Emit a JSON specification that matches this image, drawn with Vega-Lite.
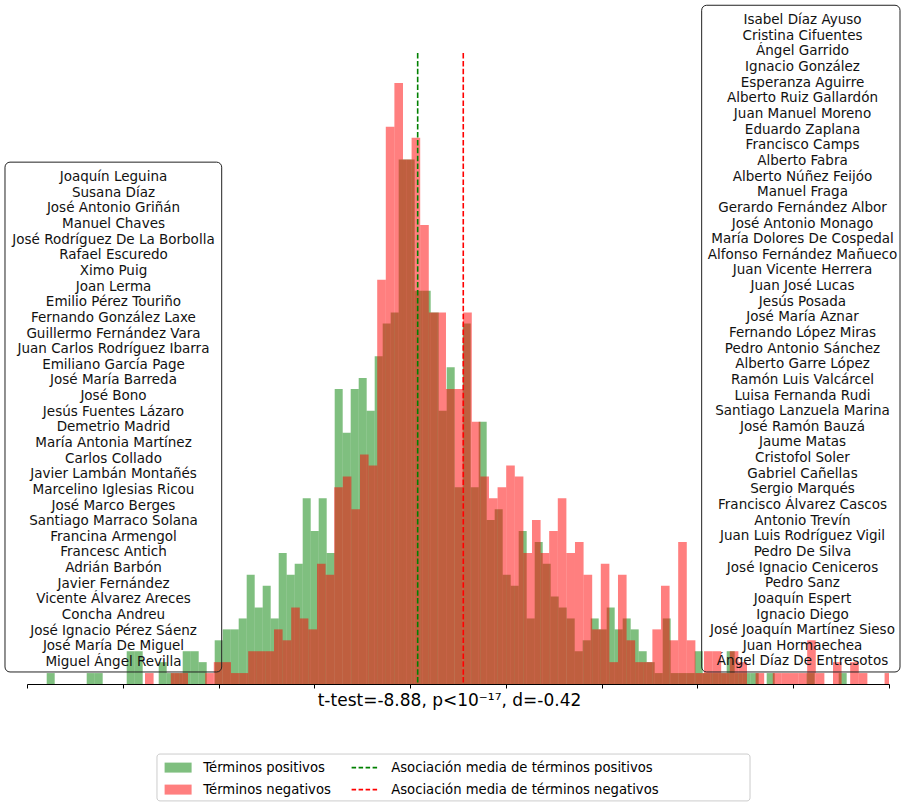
{
"$schema": "https://vega.github.io/schema/vega-lite/v6.json",
"width": 862, "height": 631,
"autosize": {"type": "none"},
"padding": {"left": 27, "top": 53, "right": 13, "bottom": 120},
"background": "white",
"config": {"font": "DejaVu Sans", "view": {"stroke": null}},
"datasets": {
"hist": [
{"serie":"Términos positivos","lo":0.2057,"hi":0.2892,"n":1},
{"serie":"Términos positivos","lo":0.6233,"hi":0.7068,"n":1},
{"serie":"Términos positivos","lo":0.7068,"hi":0.7903,"n":1},
{"serie":"Términos positivos","lo":1.0410,"hi":1.1245,"n":3},
{"serie":"Términos positivos","lo":1.1245,"hi":1.2080,"n":3},
{"serie":"Términos positivos","lo":1.3751,"hi":1.4586,"n":2},
{"serie":"Términos positivos","lo":1.4586,"hi":1.5421,"n":1},
{"serie":"Términos positivos","lo":1.5421,"hi":1.6256,"n":1},
{"serie":"Términos positivos","lo":1.6256,"hi":1.7092,"n":3},
{"serie":"Términos positivos","lo":1.7092,"hi":1.7927,"n":3},
{"serie":"Términos positivos","lo":1.7927,"hi":1.8762,"n":2},
{"serie":"Términos positivos","lo":1.9597,"hi":2.0432,"n":4},
{"serie":"Términos positivos","lo":2.0432,"hi":2.1268,"n":5},
{"serie":"Términos positivos","lo":2.1268,"hi":2.2103,"n":5},
{"serie":"Términos positivos","lo":2.2103,"hi":2.2938,"n":6},
{"serie":"Términos positivos","lo":2.2938,"hi":2.3774,"n":10},
{"serie":"Términos positivos","lo":2.3774,"hi":2.4609,"n":7},
{"serie":"Términos positivos","lo":2.4609,"hi":2.5444,"n":9},
{"serie":"Términos positivos","lo":2.5444,"hi":2.6280,"n":6},
{"serie":"Términos positivos","lo":2.6280,"hi":2.7115,"n":12},
{"serie":"Términos positivos","lo":2.7115,"hi":2.7950,"n":10},
{"serie":"Términos positivos","lo":2.7950,"hi":2.8785,"n":11},
{"serie":"Términos positivos","lo":2.8785,"hi":2.9621,"n":17},
{"serie":"Términos positivos","lo":2.9621,"hi":3.0456,"n":14},
{"serie":"Términos positivos","lo":3.0456,"hi":3.1291,"n":17},
{"serie":"Términos positivos","lo":3.1291,"hi":3.2126,"n":12},
{"serie":"Términos positivos","lo":3.2126,"hi":3.2962,"n":27},
{"serie":"Términos positivos","lo":3.2962,"hi":3.3797,"n":23},
{"serie":"Términos positivos","lo":3.3797,"hi":3.4632,"n":27},
{"serie":"Términos positivos","lo":3.4632,"hi":3.5467,"n":28},
{"serie":"Términos positivos","lo":3.5467,"hi":3.6303,"n":25},
{"serie":"Términos positivos","lo":3.6303,"hi":3.7138,"n":30},
{"serie":"Términos positivos","lo":3.7138,"hi":3.7973,"n":33},
{"serie":"Términos positivos","lo":3.7973,"hi":3.8808,"n":34},
{"serie":"Términos positivos","lo":3.8808,"hi":3.9644,"n":48},
{"serie":"Términos positivos","lo":3.9644,"hi":4.0479,"n":48},
{"serie":"Términos positivos","lo":4.0479,"hi":4.1314,"n":36},
{"serie":"Términos positivos","lo":4.1314,"hi":4.2149,"n":36},
{"serie":"Términos positivos","lo":4.2149,"hi":4.2985,"n":34},
{"serie":"Términos positivos","lo":4.2985,"hi":4.3820,"n":25},
{"serie":"Términos positivos","lo":4.3820,"hi":4.4655,"n":29},
{"serie":"Términos positivos","lo":4.4655,"hi":4.5490,"n":18},
{"serie":"Términos positivos","lo":4.5490,"hi":4.6326,"n":33},
{"serie":"Términos positivos","lo":4.6326,"hi":4.7161,"n":18},
{"serie":"Términos positivos","lo":4.7161,"hi":4.7996,"n":24},
{"serie":"Términos positivos","lo":4.7996,"hi":4.8831,"n":15},
{"serie":"Términos positivos","lo":4.8831,"hi":4.9667,"n":16},
{"serie":"Términos positivos","lo":4.9667,"hi":5.0502,"n":10},
{"serie":"Términos positivos","lo":5.0502,"hi":5.1337,"n":9},
{"serie":"Términos positivos","lo":5.1337,"hi":5.2172,"n":14},
{"serie":"Términos positivos","lo":5.2172,"hi":5.3008,"n":6},
{"serie":"Términos positivos","lo":5.3008,"hi":5.3843,"n":13},
{"serie":"Términos positivos","lo":5.3843,"hi":5.4678,"n":11},
{"serie":"Términos positivos","lo":5.4678,"hi":5.5513,"n":8},
{"serie":"Términos positivos","lo":5.5513,"hi":5.6349,"n":7},
{"serie":"Términos positivos","lo":5.6349,"hi":5.7184,"n":6},
{"serie":"Términos positivos","lo":5.7184,"hi":5.8019,"n":3},
{"serie":"Términos positivos","lo":5.8019,"hi":5.8854,"n":4},
{"serie":"Términos positivos","lo":5.8854,"hi":5.9690,"n":6},
{"serie":"Términos positivos","lo":5.9690,"hi":6.0525,"n":5},
{"serie":"Términos positivos","lo":6.0525,"hi":6.1360,"n":7},
{"serie":"Términos positivos","lo":6.1360,"hi":6.2195,"n":5},
{"serie":"Términos positivos","lo":6.2195,"hi":6.3031,"n":6},
{"serie":"Términos positivos","lo":6.3031,"hi":6.3866,"n":5},
{"serie":"Términos positivos","lo":6.3866,"hi":6.4701,"n":3},
{"serie":"Términos positivos","lo":6.4701,"hi":6.5536,"n":2},
{"serie":"Términos positivos","lo":6.5536,"hi":6.6372,"n":1},
{"serie":"Términos positivos","lo":6.6372,"hi":6.7207,"n":6},
{"serie":"Términos positivos","lo":6.7207,"hi":6.8042,"n":1},
{"serie":"Términos positivos","lo":6.8042,"hi":6.8877,"n":1},
{"serie":"Términos positivos","lo":6.8877,"hi":6.9713,"n":1},
{"serie":"Términos positivos","lo":6.9713,"hi":7.0548,"n":3},
{"serie":"Términos positivos","lo":7.0548,"hi":7.1383,"n":1},
{"serie":"Términos positivos","lo":7.1383,"hi":7.2218,"n":1},
{"serie":"Términos positivos","lo":7.2218,"hi":7.3054,"n":1},
{"serie":"Términos positivos","lo":7.3054,"hi":7.3889,"n":3},
{"serie":"Términos positivos","lo":7.3889,"hi":7.4724,"n":1},
{"serie":"Términos positivos","lo":7.4724,"hi":7.5559,"n":1},
{"serie":"Términos positivos","lo":7.5559,"hi":7.6395,"n":1},
{"serie":"Términos positivos","lo":7.7230,"hi":7.8065,"n":1},
{"serie":"Términos positivos","lo":8.1406,"hi":8.2241,"n":1},
{"serie":"Términos positivos","lo":8.4747,"hi":8.5582,"n":1},
{"serie":"Términos negativos","lo":1.2320,"hi":1.3218,"n":1},
{"serie":"Términos negativos","lo":1.5014,"hi":1.5912,"n":1},
{"serie":"Términos negativos","lo":1.5912,"hi":1.6810,"n":1},
{"serie":"Términos negativos","lo":1.8605,"hi":1.9503,"n":1},
{"serie":"Términos negativos","lo":1.9503,"hi":2.0401,"n":2},
{"serie":"Términos negativos","lo":2.0401,"hi":2.1299,"n":2},
{"serie":"Términos negativos","lo":2.1299,"hi":2.2197,"n":1},
{"serie":"Términos negativos","lo":2.2197,"hi":2.3095,"n":1},
{"serie":"Términos negativos","lo":2.3095,"hi":2.3993,"n":3},
{"serie":"Términos negativos","lo":2.3993,"hi":2.4891,"n":3},
{"serie":"Términos negativos","lo":2.4891,"hi":2.5789,"n":3},
{"serie":"Términos negativos","lo":2.5789,"hi":2.6687,"n":5},
{"serie":"Términos negativos","lo":2.6687,"hi":2.7584,"n":4},
{"serie":"Términos negativos","lo":2.7584,"hi":2.8482,"n":7},
{"serie":"Términos negativos","lo":2.8482,"hi":2.9380,"n":6},
{"serie":"Términos negativos","lo":2.9380,"hi":3.0278,"n":5},
{"serie":"Términos negativos","lo":3.0278,"hi":3.1176,"n":11},
{"serie":"Términos negativos","lo":3.1176,"hi":3.2074,"n":10},
{"serie":"Términos negativos","lo":3.2074,"hi":3.2972,"n":18},
{"serie":"Términos negativos","lo":3.2972,"hi":3.3870,"n":19},
{"serie":"Términos negativos","lo":3.3870,"hi":3.4767,"n":16},
{"serie":"Términos negativos","lo":3.4767,"hi":3.5665,"n":21},
{"serie":"Términos negativos","lo":3.5665,"hi":3.6563,"n":20},
{"serie":"Términos negativos","lo":3.6563,"hi":3.7461,"n":37},
{"serie":"Términos negativos","lo":3.7461,"hi":3.8359,"n":51},
{"serie":"Términos negativos","lo":3.8359,"hi":3.9257,"n":55},
{"serie":"Términos negativos","lo":3.9257,"hi":4.0155,"n":48},
{"serie":"Términos negativos","lo":4.0155,"hi":4.1053,"n":50},
{"serie":"Términos negativos","lo":4.1053,"hi":4.1950,"n":42},
{"serie":"Términos negativos","lo":4.1950,"hi":4.2848,"n":34},
{"serie":"Términos negativos","lo":4.2848,"hi":4.3746,"n":34},
{"serie":"Términos negativos","lo":4.3746,"hi":4.4644,"n":27},
{"serie":"Términos negativos","lo":4.4644,"hi":4.5542,"n":27},
{"serie":"Términos negativos","lo":4.5542,"hi":4.6440,"n":34},
{"serie":"Términos negativos","lo":4.6440,"hi":4.7338,"n":24},
{"serie":"Términos negativos","lo":4.7338,"hi":4.8236,"n":19},
{"serie":"Términos negativos","lo":4.8236,"hi":4.9133,"n":17},
{"serie":"Términos negativos","lo":4.9133,"hi":5.0031,"n":18},
{"serie":"Términos negativos","lo":5.0031,"hi":5.0929,"n":20},
{"serie":"Términos negativos","lo":5.0929,"hi":5.1827,"n":19},
{"serie":"Términos negativos","lo":5.1827,"hi":5.2725,"n":12},
{"serie":"Términos negativos","lo":5.2725,"hi":5.3623,"n":15},
{"serie":"Términos negativos","lo":5.3623,"hi":5.4521,"n":12},
{"serie":"Términos negativos","lo":5.4521,"hi":5.5419,"n":14},
{"serie":"Términos negativos","lo":5.5419,"hi":5.6316,"n":17},
{"serie":"Términos negativos","lo":5.6316,"hi":5.7214,"n":12},
{"serie":"Términos negativos","lo":5.7214,"hi":5.8112,"n":13},
{"serie":"Términos negativos","lo":5.8112,"hi":5.9010,"n":10},
{"serie":"Términos negativos","lo":5.9010,"hi":5.9908,"n":5},
{"serie":"Términos negativos","lo":5.9908,"hi":6.0806,"n":11},
{"serie":"Términos negativos","lo":6.0806,"hi":6.1704,"n":2},
{"serie":"Términos negativos","lo":6.1704,"hi":6.2602,"n":10},
{"serie":"Términos negativos","lo":6.2602,"hi":6.3499,"n":4},
{"serie":"Términos negativos","lo":6.3499,"hi":6.4397,"n":2},
{"serie":"Términos negativos","lo":6.4397,"hi":6.5295,"n":2},
{"serie":"Términos negativos","lo":6.5295,"hi":6.6193,"n":5},
{"serie":"Términos negativos","lo":6.6193,"hi":6.7091,"n":9},
{"serie":"Términos negativos","lo":6.7091,"hi":6.7989,"n":4},
{"serie":"Términos negativos","lo":6.7989,"hi":6.8887,"n":13},
{"serie":"Términos negativos","lo":6.8887,"hi":6.9785,"n":4},
{"serie":"Términos negativos","lo":6.9785,"hi":7.0682,"n":1},
{"serie":"Términos negativos","lo":7.0682,"hi":7.1580,"n":3},
{"serie":"Términos negativos","lo":7.1580,"hi":7.2478,"n":3},
{"serie":"Términos negativos","lo":7.2478,"hi":7.3376,"n":1},
{"serie":"Términos negativos","lo":7.3376,"hi":7.4274,"n":3},
{"serie":"Términos negativos","lo":7.4274,"hi":7.5172,"n":2},
{"serie":"Términos negativos","lo":7.6070,"hi":7.6968,"n":1},
{"serie":"Términos negativos","lo":7.7865,"hi":7.8763,"n":1},
{"serie":"Términos negativos","lo":7.8763,"hi":7.9661,"n":1},
{"serie":"Términos negativos","lo":7.9661,"hi":8.0559,"n":1},
{"serie":"Términos negativos","lo":8.0559,"hi":8.1457,"n":1},
{"serie":"Términos negativos","lo":8.1457,"hi":8.2355,"n":4},
{"serie":"Términos negativos","lo":8.2355,"hi":8.3253,"n":1},
{"serie":"Términos negativos","lo":8.4150,"hi":8.5048,"n":2},
{"serie":"Términos negativos","lo":8.5946,"hi":8.6844,"n":2},
{"serie":"Términos negativos","lo":8.6844,"hi":8.7742,"n":1},
{"serie":"Términos negativos","lo":8.9538,"hi":9.0436,"n":1}
],
"means": [
{"serie":"Asociación media de términos positivos","mean":4.079},
{"serie":"Asociación media de términos negativos","mean":4.555}
],
"boxes": [
{"side":"left","names":"Joaquín Leguina\nSusana Díaz\nJosé Antonio Griñán\nManuel Chaves\nJosé Rodríguez De La Borbolla\nRafael Escuredo\nXimo Puig\nJoan Lerma\nEmilio Pérez Touriño\nFernando González Laxe\nGuillermo Fernández Vara\nJuan Carlos Rodríguez Ibarra\nEmiliano García Page\nJosé María Barreda\nJosé Bono\nJesús Fuentes Lázaro\nDemetrio Madrid\nMaría Antonia Martínez\nCarlos Collado\nJavier Lambán Montañés\nMarcelino Iglesias Ricou\nJosé Marco Berges\nSantiago Marraco Solana\nFrancina Armengol\nFrancesc Antich\nAdrián Barbón\nJavier Fernández\nVicente Álvarez Areces\nConcha Andreu\nJosé Ignacio Pérez Sáenz\nJosé María De Miguel\nMiguel Ángel Revilla"},
{"side":"right","names":"Isabel Díaz Ayuso\nCristina Cifuentes\nÁngel Garrido\nIgnacio González\nEsperanza Aguirre\nAlberto Ruiz Gallardón\nJuan Manuel Moreno\nEduardo Zaplana\nFrancisco Camps\nAlberto Fabra\nAlberto Núñez Feijóo\nManuel Fraga\nGerardo Fernández Albor\nJosé Antonio Monago\nMaría Dolores De Cospedal\nAlfonso Fernández Mañueco\nJuan Vicente Herrera\nJuan José Lucas\nJesús Posada\nJosé María Aznar\nFernando López Miras\nPedro Antonio Sánchez\nAlberto Garre López\nRamón Luis Valcárcel\nLuisa Fernanda Rudi\nSantiago Lanzuela Marina\nJosé Ramón Bauzá\nJaume Matas\nCristofol Soler\nGabriel Cañellas\nSergio Marqués\nFrancisco Álvarez Cascos\nAntonio Trevín\nJuan Luis Rodríguez Vigil\nPedro De Silva\nJosé Ignacio Ceniceros\nPedro Sanz\nJoaquín Espert\nIgnacio Diego\nJosé Joaquín Martínez Sieso\nJuan Hormaechea\nÁngel Díaz De Entresotos"}
]
},
"layer": [
{
"data": {"name": "hist"},
"mark": {"type": "rect", "clip": true, "fillOpacity": 0.5, "strokeWidth": 0},
"encoding": {
"x": {"field": "lo", "type": "quantitative",
  "scale": {"domain": [0, 9], "nice": false, "zero": false},
  "axis": {"values": [0,1,2,3,4,5,6,7,8,9], "labels": false, "grid": false, "ticks": true, "tickSize": 4, "tickColor": "#000", "tickWidth": 1, "domainColor": "#000", "domainWidth": 1,
    "title": "t-test=-8.88, p<10⁻¹⁷, d=-0.42", "titleFont": "DejaVu Sans", "titleFontSize": 17, "titleFontWeight": "normal", "titleColor": "#000", "titlePadding": 4, "titleX": 422, "titleAlign": "center"}},
"x2": {"field": "hi"},
"y": {"field": "n", "type": "quantitative", "scale": {"domain": [0, 57.75], "nice": false, "zero": true}, "axis": null},
"y2": {"datum": 0},
"fill": {"field": "serie", "type": "nominal",
  "scale": {"domain": ["Términos positivos", "Términos negativos"], "range": ["#008000", "#ff0000"]},
  "legend": {"title": null, "orient": "none", "legendX": 144.5, "legendY": 708, "direction": "vertical", "padding": 0,
    "symbolType": "M-2.7,-1H2.7V1H-2.7Z", "symbolSize": 100, "symbolOpacity": 0.5, "symbolStrokeWidth": 0,
    "labelFont": "DejaVu Sans", "labelFontSize": 13.2, "labelColor": "#000", "labelOffset": 18.5, "rowPadding": 8, "labelLimit": 400}}
}
},
{
"data": {"name": "means"},
"mark": {"type": "rule", "strokeDash": [5.5, 2.4], "strokeWidth": 1.6},
"encoding": {
"x": {"field": "mean", "type": "quantitative"},
"stroke": {"field": "serie", "type": "nominal",
  "scale": {"domain": ["Asociación media de términos positivos", "Asociación media de términos negativos"], "range": ["#008000", "#ff0000"]},
  "legend": {"title": null, "orient": "none", "legendX": 331.5, "legendY": 708, "direction": "vertical", "padding": 0,
    "symbolType": "M-2.7,0H2.7", "symbolSize": 100, "symbolStrokeWidth": 1.6, "symbolDash": [4.5, 2.5],
    "labelFont": "DejaVu Sans", "labelFontSize": 13.2, "labelColor": "#000", "labelOffset": 19.5, "rowPadding": 8, "labelLimit": 500}}
}
},
{
"data": {"name": "boxes"},
"transform": [{"filter": "datum.side == 'left'"}],
"mark": {"type": "rect", "fill": null, "fillOpacity": 0, "stroke": "#222", "strokeWidth": 1, "cornerRadius": 5},
"encoding": {"x": {"datum": -0.2297}, "x2": {"datum": 2.0328}, "y": {"datum": 47.76}, "y2": {"datum": 1.10}}
},
{
"data": {"name": "boxes"},
"transform": [{"filter": "datum.side == 'right'"}],
"mark": {"type": "rect", "fill": null, "fillOpacity": 0, "stroke": "#222", "strokeWidth": 1, "cornerRadius": 5},
"encoding": {"x": {"datum": 7.044}, "x2": {"datum": 9.115}, "y": {"datum": 62.12}, "y2": {"datum": 1.10}}
},
{
"data": {"name": "boxes"},
"transform": [{"filter": "datum.side == 'left'"}],
"mark": {"type": "text", "lineBreak": "\n", "lineHeight": 15.64, "baseline": "top", "align": "center", "font": "DejaVu Sans", "fontSize": 13.5, "color": "#111"},
"encoding": {"x": {"datum": 0.903}, "y": {"datum": 47.03}, "text": {"field": "names", "type": "nominal"}}
},
{
"data": {"name": "boxes"},
"transform": [{"filter": "datum.side == 'right'"}],
"mark": {"type": "text", "lineBreak": "\n", "lineHeight": 15.64, "baseline": "top", "align": "center", "font": "DejaVu Sans", "fontSize": 13.5, "color": "#111"},
"encoding": {"x": {"datum": 8.097}, "y": {"datum": 61.39}, "text": {"field": "names", "type": "nominal"}}
},
{
"data": {"name": "boxes"},
"transform": [{"filter": "datum.side == 'left'"}],
"mark": {"type": "rect", "fill": "white", "fillOpacity": 0, "stroke": "#cccccc", "strokeWidth": 1, "cornerRadius": 3},
"encoding": {"x": {"datum": 1.357}, "x2": {"datum": 7.549}, "y": {"datum": -6.41}, "y2": {"datum": -10.70}}
}
]
}
